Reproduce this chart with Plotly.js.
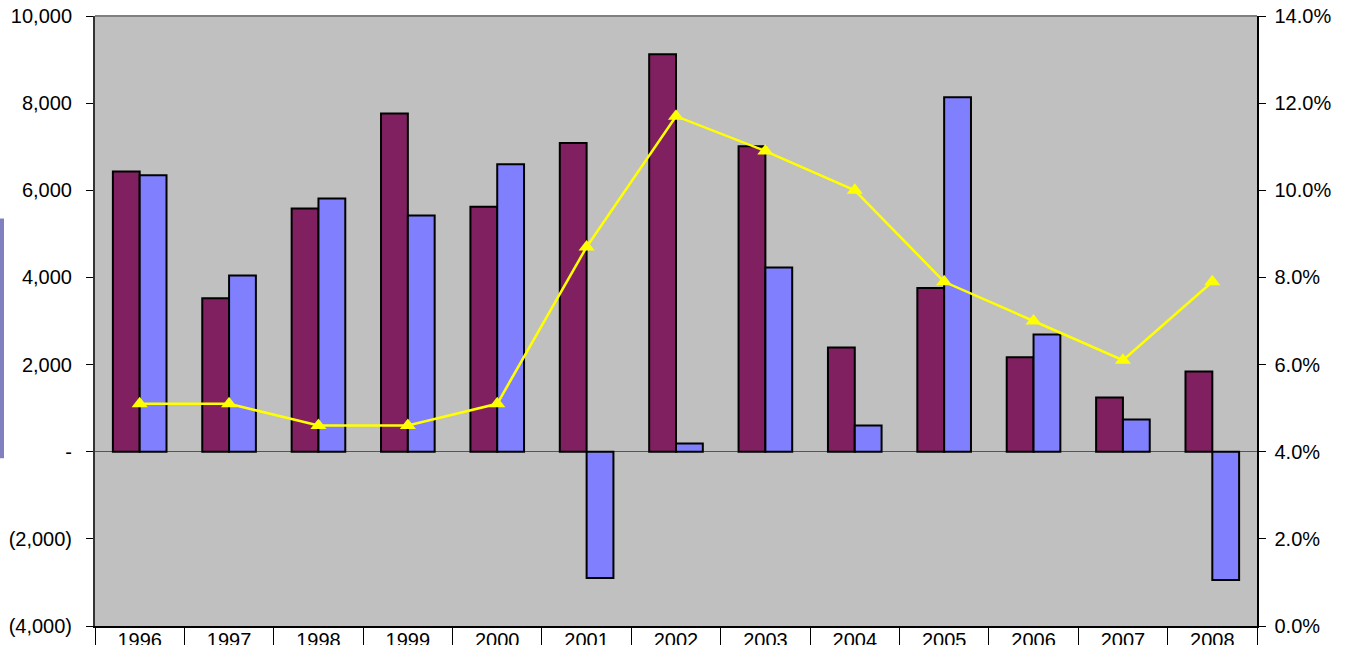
<!DOCTYPE html>
<html>
<head>
<meta charset="utf-8">
<script src="https://cdn.plot.ly/plotly-3.0.1.min.js"></script>
<style>
html,body{margin:0;padding:0;background:#fff;}
#chart{width:1347px;height:645px;}
</style>
</head>
<body>
<div id="chart"></div>
<script>
const years = ['1996','1997','1998','1999','2000','2001','2002','2003','2004','2005','2006','2007','2008'];
const seriesA = [6430, 3520, 5580, 7765, 5620, 7085, 9120, 7010, 2390, 3760, 2170, 1245, 1840];
const seriesB = [6345, 4045, 5810, 5420, 6600, -2900, 190, 4230, 600, 8135, 2690, 740, -2945];
const rate = [0.051, 0.051, 0.046, 0.046, 0.051, 0.087, 0.117, 0.109, 0.100, 0.079, 0.070, 0.061, 0.079];
const leftTickVals = [-4000, -2000, 0, 2000, 4000, 6000, 8000, 10000];
const leftTickText = ['(4,000)', '(2,000)', '-', '2,000', '4,000', '6,000', '8,000', '10,000'];
const rightTickVals = [0, 0.02, 0.04, 0.06, 0.08, 0.10, 0.12, 0.14];
const rightTickText = ['0.0%', '2.0%', '4.0%', '6.0%', '8.0%', '10.0%', '12.0%', '14.0%'];

const font = {family: 'Liberation Sans, Arial, sans-serif', size: 20, color: '#000'};

const traces = [
  {type: 'bar', x: years, y: seriesA, name: 'A',
   marker: {color: '#802060', line: {color: '#000', width: 2}}},
  {type: 'bar', x: years, y: seriesB, name: 'B',
   marker: {color: '#8080FF', line: {color: '#000', width: 2}}},
  {type: 'scatter', mode: 'lines+markers', x: years, y: rate, yaxis: 'y2', name: 'C',
   line: {color: '#FFFF00', width: 2.5},
   marker: {symbol: 'triangle-up', size: 14, color: '#FFFF00'}}
];

const layout = {
  width: 1347, height: 645,
  margin: {l: 95, r: 90, t: 16, b: 19},
  paper_bgcolor: '#fff',
  plot_bgcolor: '#C0C0C0',
  showlegend: false,
  barmode: 'group',
  bargap: 0.4,
  bargroupgap: 0,
  font: font,
  xaxis: {
    type: 'category',
    range: [-0.5, 12.5],
    showline: true, linecolor: '#000', linewidth: 1.5,
    ticks: 'outside', tickson: 'boundaries', ticklen: 22, tickcolor: '#000', tickwidth: 1,
    ticklabelstandoff: -5,
    showgrid: false, zeroline: false,
    tickfont: font
  },
  yaxis: {
    range: [-4000, 10000],
    tickvals: leftTickVals, ticktext: leftTickText,
    showline: true, linecolor: '#333', linewidth: 2,
    ticks: 'outside', ticklen: 7, tickcolor: '#000',
    ticklabelstandoff: 10,
    showgrid: false,
    zeroline: true, zerolinecolor: '#555', zerolinewidth: 1.5,
    tickfont: font
  },
  yaxis2: {
    overlaying: 'y', side: 'right',
    range: [0, 0.14],
    tickvals: rightTickVals, ticktext: rightTickText,
    showline: true, linecolor: '#000', linewidth: 1.5,
    ticks: 'outside', ticklen: 7, tickcolor: '#000',
    ticklabelstandoff: 5,
    showgrid: false, zeroline: false,
    tickfont: font
  },
  shapes: [
    {type: 'line', xref: 'paper', yref: 'paper', x0: 0, x1: 1, y0: 1, y1: 1,
     line: {color: '#808080', width: 2}},
    {type: 'rect', xref: 'paper', yref: 'paper', xsizemode: 'pixel', xanchor: 0,
     x0: -95, x1: -91, y0: 0.275, y1: 0.668,
     fillcolor: '#8080C0', line: {width: 0}}
  ]
};

Plotly.newPlot('chart', traces, layout, {displayModeBar: false, staticPlot: true});
</script>
</body>
</html>
